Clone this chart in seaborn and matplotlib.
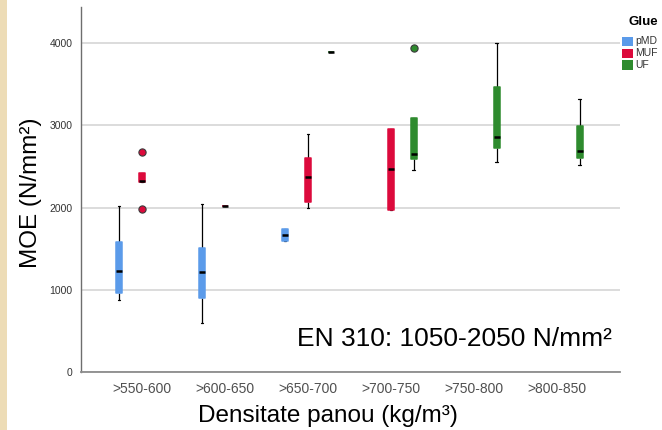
import matplotlib
matplotlib.use("Agg")
import matplotlib.pyplot as plt
from matplotlib.patches import Rectangle
import pandas as pd
import seaborn as sns

# Density classes and glue types
categories = [">550-600", ">600-650", ">650-700", ">700-750", ">750-800", ">800-850"]
glues = ["pMD", "MUF", "UF"]
glue_colors = ["#5b9bea", "#dc0a3c", "#2e8b2e"]

# MOE measurements (N/mm²) per density class
moe_pmd = {
    ">550-600": [876, 965, 1232, 1585, 2020],
    ">600-650": [600, 897, 1213, 1511, 2040],
    ">650-700": [1595, 1595, 1667, 1735, 1735],
}
moe_muf = {
    ">550-600": [1980, 2310, 2318, 2420, 2680],
    ">600-650": [2020],
    ">650-700": [2000, 2072, 2372, 2607, 2891],
    ">700-750": [1975, 1975, 2466, 2950, 2950],
}
moe_uf = {
    ">650-700": [3897],
    ">700-750": [2454, 2590, 2656, 3095, 3938],
    ">750-800": [2558, 2729, 2862, 3470, 4000],
    ">800-850": [2518, 2607, 2689, 2990, 3321],
}

norm_text = "EN 310: 1050-2050 N/mm²"
x_title = "Densitate panou (kg/m³)"
y_title = "MOE (N/mm²)"
legend_title = "Glue"

rows = []
for glue, table in zip(glues, [moe_pmd, moe_muf, moe_uf]):
    for cat, vals in table.items():
        for v in vals:
            rows.append({"Densitate": cat, "Glue": glue, "MOE": v})
df = pd.DataFrame(rows)

sns.set_style("white")
plt.rcParams["font.family"] = ["Liberation Sans", "DejaVu Sans"]

fig = plt.figure(figsize=(6.62, 4.30), dpi=100)
W, H = 662, 430
ax = fig.add_axes([81 / W, 1 - 372 / H, (620 - 81) / W, (372 - 7) / H])

sns.boxplot(
    data=df, x="Densitate", y="MOE", hue="Glue",
    order=categories, hue_order=glues, palette=glue_colors,
    saturation=1, width=0.83, gap=0.75, whis=1.5,
    linecolor="black", linewidth=0.8, fliersize=5.2,
    legend=False, ax=ax,
    medianprops={"linewidth": 1.8},
    flierprops={"marker": "o", "markeredgecolor": "#3a3a3a", "markeredgewidth": 0.8},
    whiskerprops={"linewidth": 0.9},
    capprops={"linewidth": 0.9},
)

# Boxes without dark outline; caps tucked under the boxes; outliers in glue colour
for cont in ax.containers:
    boxes = getattr(cont, "boxes", [])
    if not boxes:
        continue
    fc = boxes[0].get_facecolor()
    for b in boxes:
        b.set_edgecolor(fc)
        b.set_linewidth(1.1)
        b.set_joinstyle("round")
        b.set_zorder(3)
    for c in getattr(cont, "caps", []):
        c.set_zorder(2)
    for w in getattr(cont, "whiskers", []):
        w.set_zorder(2)
    for fl in getattr(cont, "fliers", []):
        fl.set_markerfacecolor(fc)
        fl.set_zorder(4)
    for m in getattr(cont, "medians", []):
        m.set_zorder(5)

ax.set_xlim(-0.735, 5.76)
ax.set_ylim(0, 4440)
ax.set_yticks([0, 1000, 2000, 3000, 4000])
ax.yaxis.grid(True, color="#d6d6d6", linewidth=1.2)
ax.set_axisbelow(True)
ax.tick_params(axis="both", length=0)
ax.tick_params(axis="y", labelsize=7.5, labelcolor="#333333", pad=6)
ax.tick_params(axis="x", labelsize=10, labelcolor="#505050", pad=7)
ax.set_xlabel("")
ax.set_ylabel("")
for side in ["top", "right"]:
    ax.spines[side].set_visible(False)
ax.spines["left"].set_color("#6e6e6e")
ax.spines["left"].set_linewidth(1.0)
ax.spines["bottom"].set_color("#8c8c8c")
ax.spines["bottom"].set_linewidth(1.3)

fig.text(31 / W, 1 - 193 / H, y_title, rotation=90, ha="center", va="center",
         fontsize=17.5, color="black")
fig.text(328 / W, 1 - 416 / H, x_title, ha="center", va="center",
         fontsize=17.5, color="black")
fig.text(297 / W, 1 - 345.5 / H, norm_text, ha="left", va="baseline",
         fontsize=19, color="black")

# Legend: bold title with square colour keys below it
fig.text(643 / W, 1 - 22 / H, legend_title, ha="center", va="center",
         fontsize=9.5, fontweight="bold", color="black")
for i, (g, c) in enumerate(zip(glues, glue_colors)):
    yc = 41.5 + 11.8 * i
    fig.patches.append(Rectangle((622 / W, 1 - (yc + 4.7) / H), 11 / W, 9.4 / H,
                                 transform=fig.transFigure, facecolor=c,
                                 edgecolor="none", zorder=3))
    fig.text(635.5 / W, 1 - yc / H, g, ha="left", va="center",
             fontsize=7.5, color="#333333")

# Parchment strip along the left edge
fig.patches.append(Rectangle((0, 0), 7 / W, 1, transform=fig.transFigure,
                             facecolor="#eddcb6", edgecolor="none", zorder=-1))

fig.savefig("out.png", dpi=100)
